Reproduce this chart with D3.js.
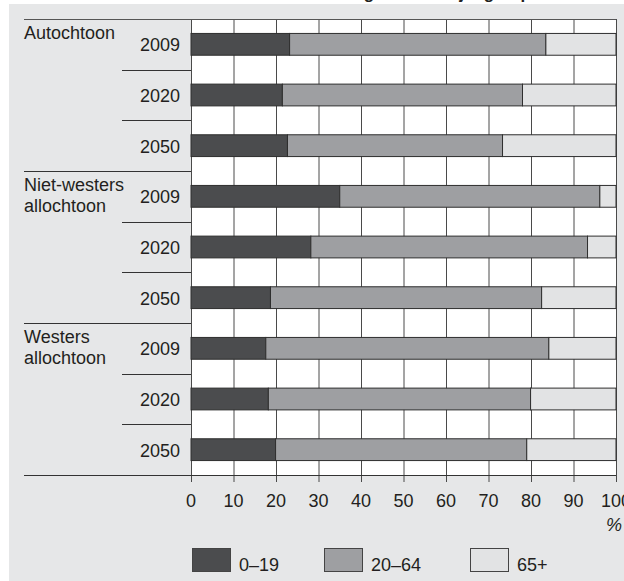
<!DOCTYPE html>
<html>
<head>
<meta charset="utf-8">
<script src="https://cdn.jsdelivr.net/npm/d3@7"></script>
<style>
  html, body { margin: 0; padding: 0; background: #fff; }
  svg { display: block; font-family: "Liberation Sans", Arial, Helvetica, sans-serif; }
</style>
</head>
<body>
<svg id="chart" width="624" height="581"></svg>
<script>
// ---- data ----
const groups = ["Autochtoon", "Niet-westers allochtoon", "Westers allochtoon"];
const groupLines = [["Autochtoon"], ["Niet-westers", "allochtoon"], ["Westers", "allochtoon"]];
const years = ["2009", "2020", "2050"];
const ageClasses = ["0–19", "20–64", "65+"];
const age0_19 =  [23.2, 21.5, 22.7, 35.0, 28.2, 18.7, 17.6, 18.2, 19.9];
const age20_64 = [60.3, 56.5, 50.6, 61.2, 65.1, 63.8, 66.6, 61.7, 59.1];
const age65p =   [16.5, 22.0, 26.7, 3.8, 6.7, 17.5, 15.8, 20.1, 21.0];
const xTicks = [0, 10, 20, 30, 40, 50, 60, 70, 80, 90, 100];
const title = "Bevolking naar leeftijdsgroep";

// ---- build rows ----
const rows = [];
groups.forEach((g, gi) => years.forEach((y, yi) => {
  const i = gi * years.length + yi;
  rows.push({ key: g + "|" + y, group: g, gi, year: y, yi, vals: [age0_19[i], age20_64[i], age65p[i]] });
}));

const colors = ["#4b4c4e", "#9e9fa2", "#e2e3e4"];
const textColor = "#231f20";
const svg = d3.select("#chart");

const x = d3.scaleLinear().domain([0, 100]).range([191, 616]);
const y = d3.scaleBand().domain(rows.map(r => r.key)).range([19, 475]).padding(0);
const barH = y.bandwidth() * 0.43;

// title (cut off at top, only descenders visible as in the reference)
svg.append("text").attr("x", 531).attr("y", -0.8).attr("text-anchor", "end")
  .attr("font-size", 17).attr("font-weight", "bold").attr("fill", textColor).text(title);

// background
svg.append("rect").attr("x", 9).attr("y", 4).attr("width", 615).attr("height", 577).attr("fill", "#e6e7e8");

// plot area
svg.append("rect").attr("x", x(0)).attr("y", 19).attr("width", x(100) - x(0)).attr("height", 456).attr("fill", "#fff");

// vertical grid
svg.append("g").selectAll("line").data(xTicks).join("line")
  .attr("x1", d => x(d) + 0.5).attr("x2", d => x(d) + 0.5)
  .attr("y1", 19).attr("y2", 482)
  .attr("stroke", "#4a4a4a").attr("stroke-width", 1);

// bars
const stack = rows.map(r => {
  let acc = 0;
  return r.vals.map((v, k) => { const s = { row: r, k, x0: acc, x1: acc + v }; acc += v; return s; });
}).flat();

svg.append("g").selectAll("rect").data(stack).join("rect")
  .attr("x", d => x(d.x0)).attr("width", d => x(d.x1) - x(d.x0))
  .attr("y", d => y(d.row.key) + (y.bandwidth() - barH) / 2)
  .attr("height", barH)
  .attr("fill", d => colors[d.k]).attr("stroke", "#2e2e2e").attr("stroke-width", 1);

// horizontal frame lines
svg.append("line").attr("x1", 24).attr("x2", 616).attr("y1", 19.5).attr("y2", 19.5).attr("stroke", "#555");
svg.append("line").attr("x1", 24).attr("x2", 616).attr("y1", 475.5).attr("y2", 475.5).attr("stroke", "#333");

// left separators
rows.forEach((r, i) => {
  if (i === 0) return;
  const yy = Math.round(y(r.key)) + 0.5;
  svg.append("line").attr("x1", r.yi === 0 ? 24 : 122).attr("x2", x(0))
    .attr("y1", yy).attr("y2", yy).attr("stroke", "#333").attr("stroke-width", 1);
});

// year labels
svg.append("g").selectAll("text").data(rows).join("text")
  .attr("x", 180).attr("y", d => y(d.key) + y.bandwidth() / 2 + 7)
  .attr("text-anchor", "end").attr("font-size", 18).attr("fill", textColor)
  .text(d => d.year);

// group labels
groupLines.forEach((lines, gi) => {
  const top = y(groups[gi] + "|" + years[0]);
  lines.forEach((t, li) => {
    svg.append("text").attr("x", 24).attr("y", top + 20 + li * 21)
      .attr("font-size", 18).attr("fill", textColor).text(t);
  });
});

// x axis labels
svg.append("g").selectAll("text").data(xTicks).join("text")
  .attr("x", d => x(d)).attr("y", 507).attr("text-anchor", "middle")
  .attr("font-size", 18).attr("fill", textColor).text(d => d);
svg.append("text").attr("x", 622).attr("y", 531).attr("text-anchor", "end")
  .attr("font-size", 18).attr("font-style", "italic").attr("fill", textColor).text("%");

// legend
const legX = [192, 324, 470];
ageClasses.forEach((a, k) => {
  svg.append("rect").attr("x", legX[k] + 0.5).attr("y", 548.5).attr("width", 38).attr("height", 23)
    .attr("fill", colors[k]).attr("stroke", "#444").attr("stroke-width", 1);
  svg.append("text").attr("x", legX[k] + 47).attr("y", 571).attr("font-size", 18)
    .attr("fill", textColor).text(a);
});
</script>
</body>
</html>
